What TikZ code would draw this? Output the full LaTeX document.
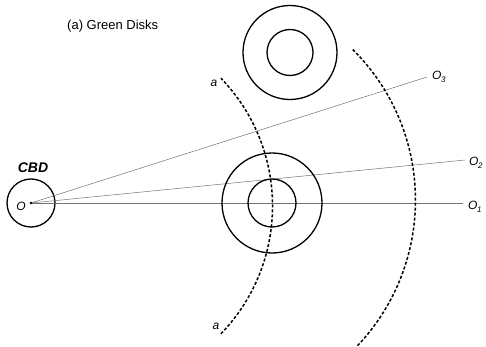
\documentclass[tikz,border=0pt]{standalone}
\usepackage{fontspec}
\setmainfont{Liberation Sans}
\newcommand{\osub}[1]{O\kern-0.3pt\raisebox{-2.5pt}{\fontsize{8}{8}\selectfont #1}}
\begin{document}
\begin{tikzpicture}[x=1pt,y=-1pt,
  ring/.style={draw, line width=1.3pt, circle, inner sep=0pt},
  ray/.style={draw=black!55, line width=0.5pt},
  arcline/.style={draw, line width=1.5pt, dash pattern=on 3pt off 2pt},
  lbl/.style={font=\fontsize{12}{12}\selectfont\itshape, inner sep=0pt}]
\useasboundingbox (0,0) rectangle (486,347);
% title
\node[font=\fontsize{13}{13}\selectfont, anchor=west, inner sep=0pt] (title) at (67,26) {(a) Green Disks};
% CBD
\node[ring, minimum size=48pt] (cbd) at (31,203) {};
\node[font=\fontsize{14}{14}\selectfont\bfseries\itshape, inner sep=0pt] (cbdlbl) at (33,168) {CBD};
\coordinate (O) at (31,203);
\node[lbl] (olbl) at (21,206) {O};
% ray ends
\coordinate (E1) at (463,203);
\coordinate (E2) at (465,160);
\coordinate (E3) at (427,77);
\draw[ray] (O) -- (E1);
\draw[ray] (O) -- (E2);
\draw[ray] (O) -- (E3);
\fill (O) circle[radius=1.3pt];
\node[lbl, anchor=west] (o1) at (468,207) {\osub{1}};
\node[lbl, anchor=west] (o2) at (469,163) {\osub{2}};
\node[lbl, anchor=west] (o3) at (432,77) {\osub{3}};
% lower disk
\node[ring, minimum size=100pt] (d1out) at (272,203) {};
\node[ring, minimum size=48pt] (d1in) at (272,203) {};
% upper disk
\node[ring, minimum size=94pt] (d3out) at (290,52.5) {};
\node[ring, minimum size=46pt] (d3in) at (290,52.5) {};
% dashed arcs
\coordinate (aBot) at (220.9,333.8);
\coordinate (bBot) at (357.5,345.7);
\draw[arcline] (aBot) arc[start angle=-44, end angle=44, radius=184pt];
\draw[arcline] (bBot) arc[start angle=-43.4, end angle=45.3, radius=212pt];
\node[lbl] (atop) at (214,83) {a};
\node[lbl] (abot) at (216,326) {a};
\end{tikzpicture}
\end{document}
